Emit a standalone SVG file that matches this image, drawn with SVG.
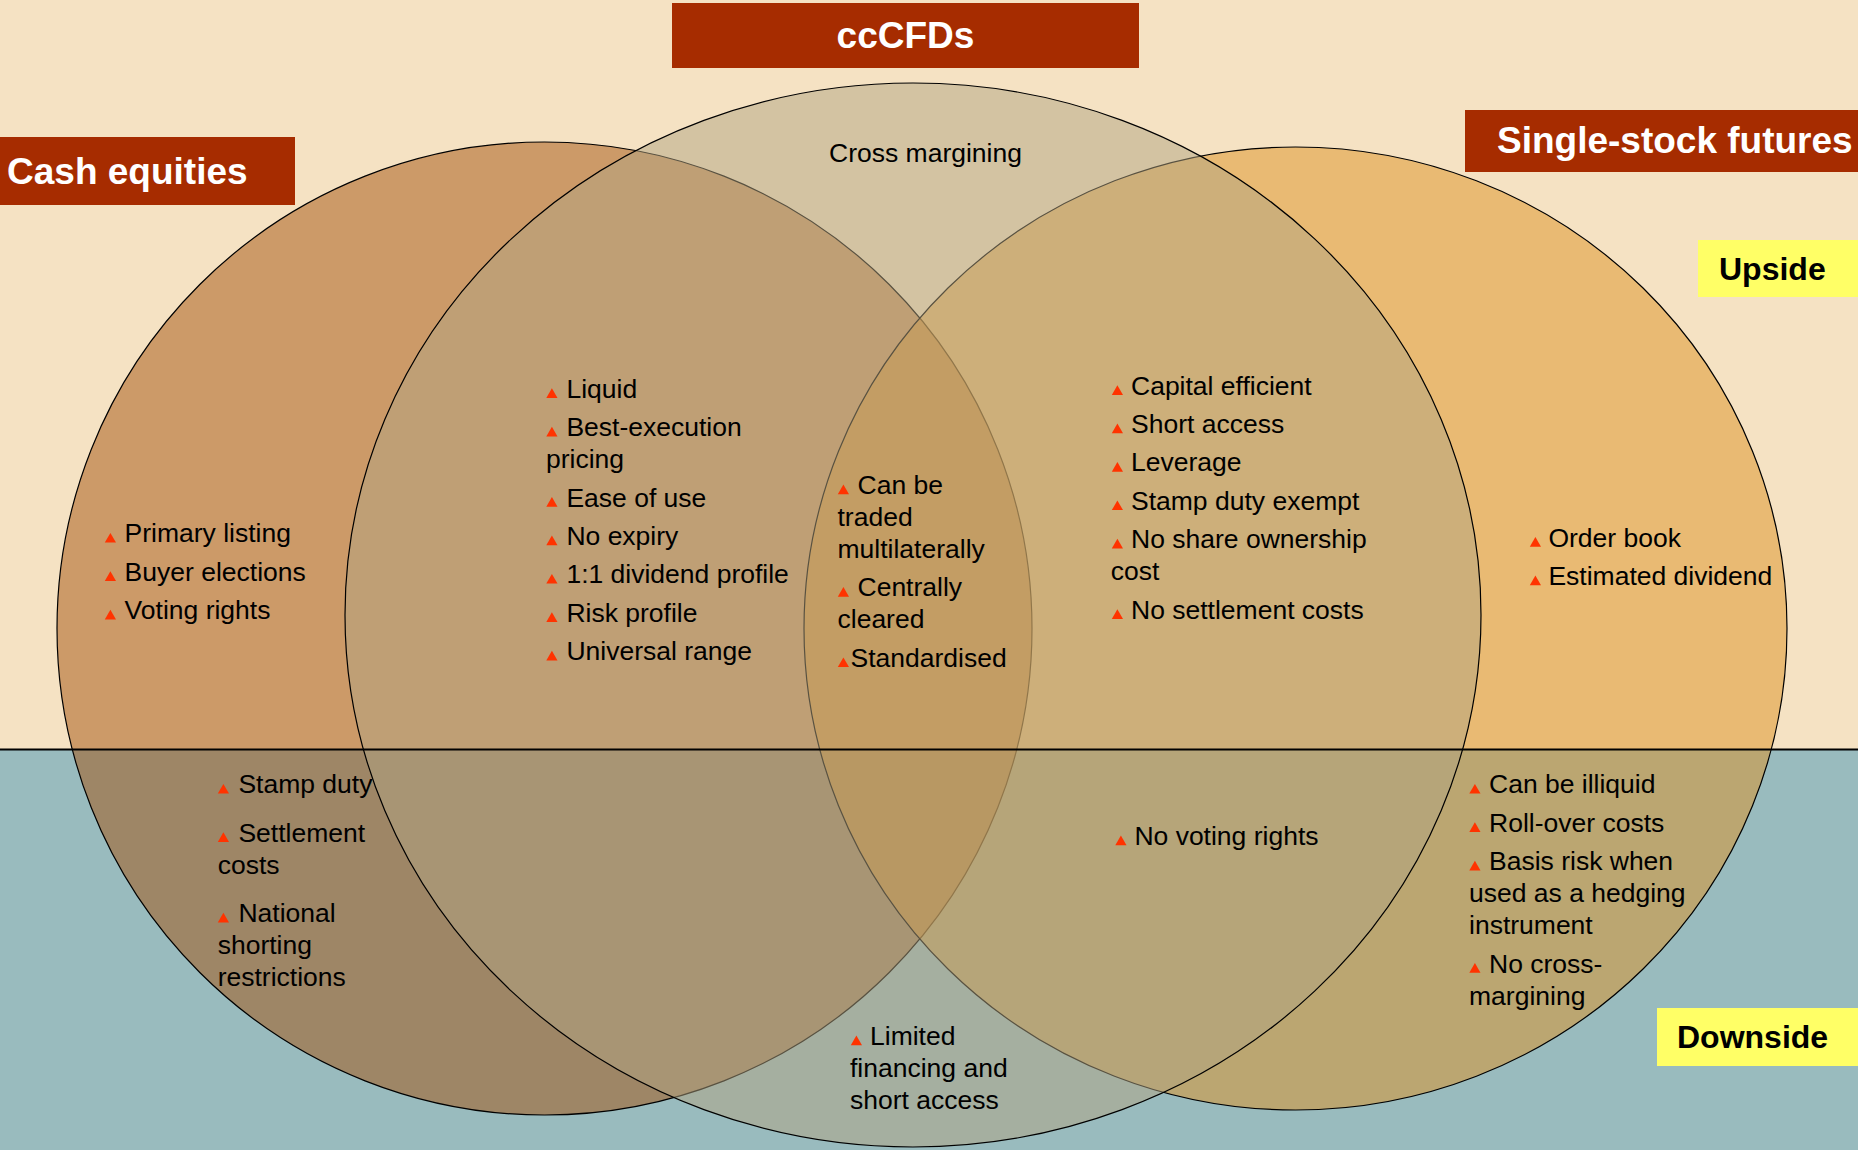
<svg xmlns="http://www.w3.org/2000/svg" xmlns:xlink="http://www.w3.org/1999/xlink" width="1858" height="1150" viewBox="0 0 1858 1150">
  <style>
    text { font-family: "Liberation Sans", Arial, sans-serif; }
    .t { font-size: 26.5px; fill: #000; }
    .h { font-size: 37px; font-weight: bold; fill: #fff; }
    .y { font-size: 32px; font-weight: bold; fill: #000; }
    .band { fill: #A62C00; }
    .tag { fill: #FFFF66; }
    .ring { stroke: #000; stroke-width: 1.2; }
    .bul { fill: #FF3300; }
  </style>
  <defs>
    <!-- list bullet: small triangle sitting on the baseline -->
    <path id="tri" d="M-0.2,0.3 L5.4,-9.4 L11,0.3 Z"/>
  </defs>

  <!-- upside / downside background bands -->
  <g id="background">
    <rect x="0" y="0" width="1858" height="749" fill="#F5E2C3"/>
    <rect x="0" y="749" width="1858" height="401" fill="#99BBBE"/>
  </g>

  <!-- three translucent sets -->
  <g id="sets">
    <ellipse id="set-cash" class="ring" cx="544.5" cy="628.5" rx="487.5" ry="486.5" fill="rgb(163,82,13)" fill-opacity="0.5"/>
    <ellipse id="set-ssf" class="ring" cx="1295.5" cy="628.5" rx="491.5" ry="481.5" fill="rgb(221,146,35)" fill-opacity="0.5"/>
    <ellipse id="set-cccfd" class="ring" cx="913" cy="615" rx="568" ry="532" fill="rgb(177,164,129)" fill-opacity="0.5"/>
  </g>

  <!-- divider between upside and downside -->
  <g id="connectors">
    <line x1="0" y1="749.5" x2="1858" y2="749.5" stroke="#000" stroke-width="2"/>
  </g>

  <!-- set titles -->
  <g id="title-cccfds">
    <rect class="band" x="672" y="3" width="467" height="65"/>
    <text class="h" x="905.5" y="48" text-anchor="middle">ccCFDs</text>
  </g>
  <g id="title-cash">
    <rect class="band" x="0" y="137" width="295" height="68"/>
    <text class="h" x="7" y="184">Cash equities</text>
  </g>
  <g id="title-ssf">
    <rect class="band" x="1465" y="110" width="393" height="62"/>
    <text class="h" x="1497" y="153">Single-stock futures</text>
  </g>
  <g id="tag-upside">
    <rect class="tag" x="1698" y="240" width="160" height="57"/>
    <text class="y" x="1719" y="280">Upside</text>
  </g>
  <g id="tag-downside">
    <rect class="tag" x="1657" y="1008" width="201" height="58"/>
    <text class="y" x="1677" y="1048">Downside</text>
  </g>

  <!-- ccCFDs only, upside -->
  <g id="cccfd-up">
    <text class="t" x="829" y="162">Cross margining</text>
  </g>

  <!-- cash equities only, upside -->
  <g id="cash-up">
    <use class="bul" href="#tri" x="105" y="542.3"/>
    <use class="bul" href="#tri" x="105" y="580.7"/>
    <use class="bul" href="#tri" x="105" y="619.1"/>
    <text class="t">
      <tspan x="124.6" y="542.3">Primary listing</tspan>
      <tspan x="124.6" y="580.7">Buyer elections</tspan>
      <tspan x="124.6" y="619.1">Voting rights</tspan>
    </text>
  </g>

  <!-- cash equities and ccCFDs, upside -->
  <g id="cash-cccfd-up">
    <use class="bul" href="#tri" x="546.5" y="397.7"/>
    <use class="bul" href="#tri" x="546.5" y="436.1"/>
    <use class="bul" href="#tri" x="546.5" y="506.5"/>
    <use class="bul" href="#tri" x="546.5" y="544.9"/>
    <use class="bul" href="#tri" x="546.5" y="583.3"/>
    <use class="bul" href="#tri" x="546.5" y="621.7"/>
    <use class="bul" href="#tri" x="546.5" y="660.1"/>
    <text class="t">
      <tspan x="566.4" y="397.7">Liquid</tspan>
      <tspan x="566.4" y="436.1">Best-execution</tspan>
      <tspan x="546" y="468.1">pricing</tspan>
      <tspan x="566.4" y="506.5">Ease of use</tspan>
      <tspan x="566.4" y="544.9">No expiry</tspan>
      <tspan x="566.4" y="583.3">1:1 dividend profile</tspan>
      <tspan x="566.4" y="621.7">Risk profile</tspan>
      <tspan x="566.4" y="660.1">Universal range</tspan>
    </text>
  </g>

  <!-- all three, upside -->
  <g id="all-up">
    <use class="bul" href="#tri" x="838" y="494"/>
    <use class="bul" href="#tri" x="838" y="596.4"/>
    <use class="bul" href="#tri" x="838" y="666.8"/>
    <text class="t">
      <tspan x="857.5" y="494">Can be</tspan>
      <tspan x="837.5" y="526">traded</tspan>
      <tspan x="837.5" y="558">multilaterally</tspan>
      <tspan x="857.5" y="596.4">Centrally</tspan>
      <tspan x="837.5" y="628.4">cleared</tspan>
      <tspan x="850.5" y="666.8">Standardised</tspan>
    </text>
  </g>

  <!-- ccCFDs and single-stock futures, upside -->
  <g id="cccfd-ssf-up">
    <use class="bul" href="#tri" x="1112" y="394.6"/>
    <use class="bul" href="#tri" x="1112" y="433"/>
    <use class="bul" href="#tri" x="1112" y="471.4"/>
    <use class="bul" href="#tri" x="1112" y="509.8"/>
    <use class="bul" href="#tri" x="1112" y="548.2"/>
    <use class="bul" href="#tri" x="1112" y="618.6"/>
    <text class="t">
      <tspan x="1131" y="394.6">Capital efficient</tspan>
      <tspan x="1131" y="433">Short access</tspan>
      <tspan x="1131" y="471.4">Leverage</tspan>
      <tspan x="1131" y="509.8">Stamp duty exempt</tspan>
      <tspan x="1131" y="548.2">No share ownership</tspan>
      <tspan x="1110.7" y="580.2">cost</tspan>
      <tspan x="1131" y="618.6">No settlement costs</tspan>
    </text>
  </g>

  <!-- single-stock futures only, upside -->
  <g id="ssf-up">
    <use class="bul" href="#tri" x="1530" y="546.5"/>
    <use class="bul" href="#tri" x="1530" y="584.9"/>
    <text class="t">
      <tspan x="1548.4" y="546.5">Order book</tspan>
      <tspan x="1548.4" y="584.9">Estimated dividend</tspan>
    </text>
  </g>

  <!-- cash equities only, downside -->
  <g id="cash-down">
    <use class="bul" href="#tri" x="218" y="793.3"/>
    <use class="bul" href="#tri" x="218" y="841.7"/>
    <use class="bul" href="#tri" x="218" y="922.1"/>
    <text class="t">
      <tspan x="238.4" y="793.3">Stamp duty</tspan>
      <tspan x="238.4" y="841.7">Settlement</tspan>
      <tspan x="217.7" y="873.7">costs</tspan>
      <tspan x="238.4" y="922.1">National</tspan>
      <tspan x="217.7" y="954.1">shorting</tspan>
      <tspan x="217.7" y="986.1">restrictions</tspan>
    </text>
  </g>

  <!-- ccCFDs and single-stock futures, downside -->
  <g id="cccfd-ssf-down">
    <use class="bul" href="#tri" x="1115.5" y="845"/>
    <text class="t" x="1134.4" y="845">No voting rights</text>
  </g>

  <!-- ccCFDs only, downside -->
  <g id="cccfd-down">
    <use class="bul" href="#tri" x="851" y="1045"/>
    <text class="t">
      <tspan x="870" y="1045">Limited</tspan>
      <tspan x="850" y="1077">financing and</tspan>
      <tspan x="850" y="1109">short access</tspan>
    </text>
  </g>

  <!-- single-stock futures only, downside -->
  <g id="ssf-down">
    <use class="bul" href="#tri" x="1469.5" y="793.3"/>
    <use class="bul" href="#tri" x="1469.5" y="831.7"/>
    <use class="bul" href="#tri" x="1469.5" y="870.1"/>
    <use class="bul" href="#tri" x="1469.5" y="972.5"/>
    <text class="t">
      <tspan x="1489" y="793.3">Can be illiquid</tspan>
      <tspan x="1489" y="831.7">Roll-over costs</tspan>
      <tspan x="1489" y="870.1">Basis risk when</tspan>
      <tspan x="1469" y="902.1">used as a hedging</tspan>
      <tspan x="1469" y="934.1">instrument</tspan>
      <tspan x="1489" y="972.5">No cross-</tspan>
      <tspan x="1469" y="1004.5">margining</tspan>
    </text>
  </g>
</svg>
